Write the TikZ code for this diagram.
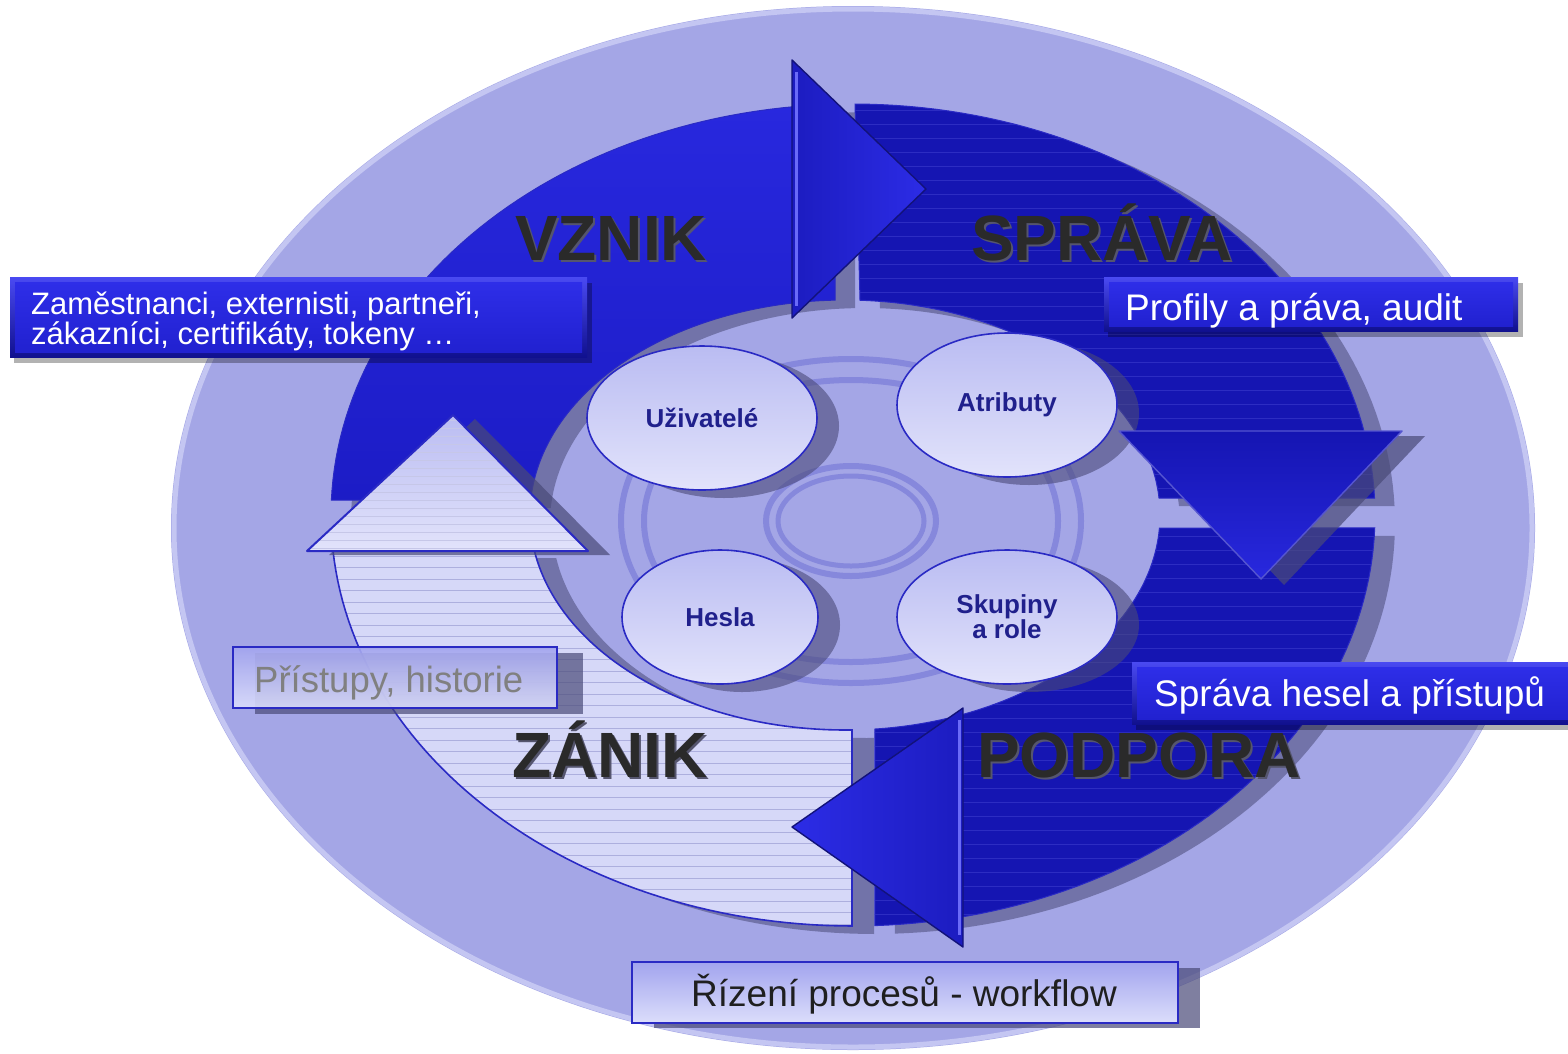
\documentclass[tikz,border=0pt]{standalone}
\usepackage{fontspec}
\setmainfont{Liberation Sans}
\usetikzlibrary{shapes.geometric}
\definecolor{bgLav}{HTML}{A4A6E6}
\definecolor{rimLav}{HTML}{C4C6F2}
\definecolor{vzTop}{HTML}{2828DE}
\definecolor{vzBot}{HTML}{1C1CC6}
\definecolor{blueDark}{HTML}{1515B2}
\definecolor{stripeDark}{HTML}{2C2CC2}
\definecolor{zanFill}{HTML}{D6D8F8}
\definecolor{zanStripe}{HTML}{ADAFDE}
\definecolor{edgeBlue}{HTML}{2A2AC4}
\definecolor{shadowGray}{HTML}{4A4A78}
\definecolor{ringLine}{HTML}{8688DC}
\definecolor{nodeText}{HTML}{20208C}
\definecolor{labText}{HTML}{2A2A2A}
\definecolor{labShadow}{HTML}{55556E}
\definecolor{boxEdgeTop}{HTML}{4A4AF2}
\definecolor{boxEdgeBot}{HTML}{10108E}
\definecolor{boxTop}{HTML}{2E2EE8}
\definecolor{boxBot}{HTML}{2121D0}
\definecolor{lightTop}{HTML}{A2A4EE}
\definecolor{lightBot}{HTML}{DCDEFB}
\definecolor{ellTop}{HTML}{BABCF2}
\definecolor{ellBot}{HTML}{E2E3FB}
\definecolor{arrowA}{HTML}{1C1CC0}
\definecolor{arrowB}{HTML}{2C2CE6}
\definecolor{arrowHi}{HTML}{6A6AF8}
\definecolor{arrowEdge}{HTML}{12127A}

\def\pathVznik{plot[domain=182.09:268.02,samples=60,variable=\t]({853+522*cos(\t)},{515+411*sin(\t)}) -- plot[domain=268.18:184.0,samples=60,variable=\t]({845+315*cos(\t)},{515+215*sin(\t)}) -- cycle}
\def\pathSprava{plot[domain=270.22:357.63,samples=60,variable=\t]({853+522*cos(\t)},{515+411*sin(\t)}) -- plot[domain=355.47:272.73,samples=60,variable=\t]({845+315*cos(\t)},{515+215*sin(\t)}) -- cycle}
\def\pathPodpora{plot[domain=1.81:87.59,samples=60,variable=\t]({853+522*cos(\t)},{515+411*sin(\t)}) -- plot[domain=84.54:3.47,samples=60,variable=\t]({845+315*cos(\t)},{515+215*sin(\t)}) -- cycle}
\def\pathZanik{plot[domain=90.11:175.11,samples=60,variable=\t]({853+522*cos(\t)},{515+411*sin(\t)}) -- plot[domain=170.63:88.73,samples=60,variable=\t]({845+315*cos(\t)},{515+215*sin(\t)}) -- cycle}

\begin{document}
\begin{tikzpicture}[x=1pt,y=-1pt,
  bigl/.style={font=\bfseries\fontsize{64}{64}\selectfont, text=labText, anchor=base, inner sep=0},
  bigs/.style={bigl, text=labShadow},
  whitet/.style={font=\fontsize{37}{37}\selectfont, text=white, anchor=base west, inner sep=0},
  grayt/.style={font=\fontsize{36.5}{36.5}\selectfont, anchor=base west, inner sep=0},
  ell/.style={ellipse, draw=edgeBlue, line width=1.6, top color=ellTop, bottom color=ellBot, inner sep=0, text=nodeText, font=\bfseries\fontsize{26}{25}\selectfont, align=center},
  shad/.style={fill=shadowGray, opacity=.6},
  quadshadow/.style={fill=shadowGray, opacity=.55}
]
\useasboundingbox (0,0) rectangle (1568,1053);
\fill[white] (0,0) rectangle (1568,1053);

% big background ellipse
\fill[bgLav] (853,528) ellipse [x radius=682pt, y radius=522pt];
\draw[rimLav, line width=5] (853,528) ellipse [x radius=679pt, y radius=519pt];

% quadrant shadows
\fill[quadshadow, shift={(20,8)}] \pathSprava;
\fill[quadshadow, shift={(20,8)}] \pathPodpora;
\fill[quadshadow, shift={(22,8)}] \pathZanik;
\fill[quadshadow, shift={(20,8)}] \pathVznik;

% VZNIK quadrant
\shade[top color=vzTop, bottom color=vzBot] \pathVznik;
\draw[edgeBlue, line width=1] \pathVznik;

% SPRAVA quadrant
\fill[blueDark] \pathSprava;
\begin{scope}
\clip \pathSprava;
\foreach \yy in {110,124,...,510} \draw[stripeDark, line width=1] (840,\yy) -- (1420,\yy);
\end{scope}
\draw[edgeBlue, line width=1] \pathSprava;

% PODPORA quadrant
\fill[blueDark] \pathPodpora;
\begin{scope}
\clip \pathPodpora;
\foreach \yy in {536,550,...,930} \draw[stripeDark, line width=1] (860,\yy) -- (1420,\yy);
\end{scope}
\draw[edgeBlue, line width=1] \pathPodpora;

% ZANIK quadrant
\fill[zanFill] \pathZanik;
\begin{scope}
\clip \pathZanik;
\foreach \yy in {556,567.5,...,930} \draw[zanStripe, line width=1] (320,\yy) -- (860,\yy);
\end{scope}
\draw[edgeBlue, line width=1.6] \pathZanik;

% centre rings
\draw[ringLine, line width=6] (851,521) ellipse [x radius=230pt, y radius=162pt];
\draw[ringLine, line width=6] (851,521) ellipse [x radius=207pt, y radius=141pt];
\draw[ringLine, line width=6] (851,521) ellipse [x radius=85pt, y radius=55pt];
\draw[ringLine, line width=5] (851,521) ellipse [x radius=73pt, y radius=45pt];

% small ellipses: shadows
\fill[shad] (724,426) ellipse [x radius=115pt, y radius=72pt];
\fill[shad] (1029,413) ellipse [x radius=110pt, y radius=72pt];
\fill[shad] (742,625) ellipse [x radius=98pt, y radius=67pt];
\fill[shad] (1029,625) ellipse [x radius=110pt, y radius=67pt];

\node[ell, minimum width=230pt, minimum height=144pt] (uziv) at (702,418) {Uživatelé};
\node[ell, minimum width=220pt, minimum height=144pt] (atrib) at (1007,405) {Atributy};
\node[ell, minimum width=196pt, minimum height=134pt] (hesla) at (720,617) {Hesla};
\node[ell, minimum width=220pt, minimum height=134pt] (skup) at (1007,617) {Skupiny\\a role};

% up arrow (light)
\fill[shadowGray, opacity=.7] (329,555) -- (610,555) -- (475,419) -- cycle;
\shade[top color=ellTop, bottom color=ellBot] (307,551) -- (588,551) -- (453,415) -- cycle;
\begin{scope}
\clip (307,551) -- (588,551) -- (453,415) -- cycle;
\foreach \yy in {420,428,...,550} \draw[zanStripe!70, line width=.8] (300,\yy) -- (600,\yy);
\end{scope}
\draw[edgeBlue, line width=2, line join=round] (307,551) -- (588,551) -- (453,415) -- cycle;

% down arrow
\fill[shadowGray, opacity=.7] (1142,436) -- (1425,436) -- (1284,585) -- cycle;
\shade[top color=blueDark, bottom color=vzTop] (1119,431) -- (1402,431) -- (1261,579) -- cycle;
\draw[edgeBlue!80!white, line width=1.4, line join=round] (1119,431) -- (1402,431) -- (1261,579) -- cycle;

% right arrow (top)
\shade[left color=arrowA, right color=arrowB] (792,60) -- (792,318) -- (926,189) -- cycle;
\draw[arrowHi, line width=3] (796,72) -- (796,306);
\draw[arrowEdge, line width=1.4, line join=round] (792,60) -- (792,318) -- (926,189) -- cycle;

% left arrow (bottom)
\shade[left color=arrowB, right color=arrowA] (963,708) -- (963,947) -- (792,827) -- cycle;
\draw[arrowHi, line width=3] (959,720) -- (959,935);
\draw[arrowEdge, line width=1.4, line join=round] (963,708) -- (963,947) -- (792,827) -- cycle;

% big labels
\node[bigs] at (613,262) {VZNIK};
\node[bigl] (lvznik) at (611,260) {VZNIK};
\node[bigs] at (1104,262) {SPRÁVA};
\node[bigl] (lsprava) at (1102,260) {SPRÁVA};
\node[bigs] at (612,779) {ZÁNIK};
\node[bigl] (lzanik) at (610,777) {ZÁNIK};
\node[bigs] at (1141,779) {PODPORA};
\node[bigl] (lpodpora) at (1139,777) {PODPORA};

% blue boxes
\fill[black, opacity=.3] (14,283) rectangle (592,363);
\shade[top color=boxEdgeTop, bottom color=boxEdgeBot] (10,277) rectangle (587,357);
\shade[top color=boxTop, bottom color=boxBot] (15,282) rectangle (582,352);
\node[whitet, font=\fontsize{31}{31}\selectfont] (zam1) at (31,314) {Zaměstnanci, externisti, partneři,};
\node[whitet, font=\fontsize{31}{31}\selectfont] (zam2) at (31,344) {zákazníci, certifikáty, tokeny …};

\fill[black, opacity=.3] (1108,283) rectangle (1523,337);
\shade[top color=boxEdgeTop, bottom color=boxEdgeBot] (1104,277) rectangle (1518,331);
\shade[top color=boxTop, bottom color=boxBot] (1109,282) rectangle (1513,326);
\node[whitet] (profily) at (1125,320) {Profily a práva, audit};

\fill[black, opacity=.3] (1136,668) rectangle (1580,730);
\shade[top color=boxEdgeTop, bottom color=boxEdgeBot] (1132,662) rectangle (1580,724);
\shade[top color=boxTop, bottom color=boxBot] (1137,667) rectangle (1575,719);
\node[whitet] (sprhesel) at (1154,706) {Správa hesel a přístupů};

% light boxes
\fill[shadowGray, opacity=.7] (255,653) rectangle (583,714);
\shade[top color=lightTop, bottom color=lightBot, opacity=.9] (233,647) rectangle (557,708);
\draw[edgeBlue, line width=2] (233,647) rectangle (557,708);
\node[grayt, text=gray] (pristupy) at (254,692) {Přístupy, historie};

\fill[shadowGray, opacity=.7] (654,968) rectangle (1200,1028);
\shade[top color=lightTop, bottom color=lightBot] (632,962) rectangle (1178,1023);
\draw[edgeBlue, line width=2] (632,962) rectangle (1178,1023);
\node[grayt, font=\fontsize{37}{37}\selectfont, text=black!88] (rizeni) at (691,1006) {Řízení procesů - workflow};
\end{tikzpicture}
\end{document}
